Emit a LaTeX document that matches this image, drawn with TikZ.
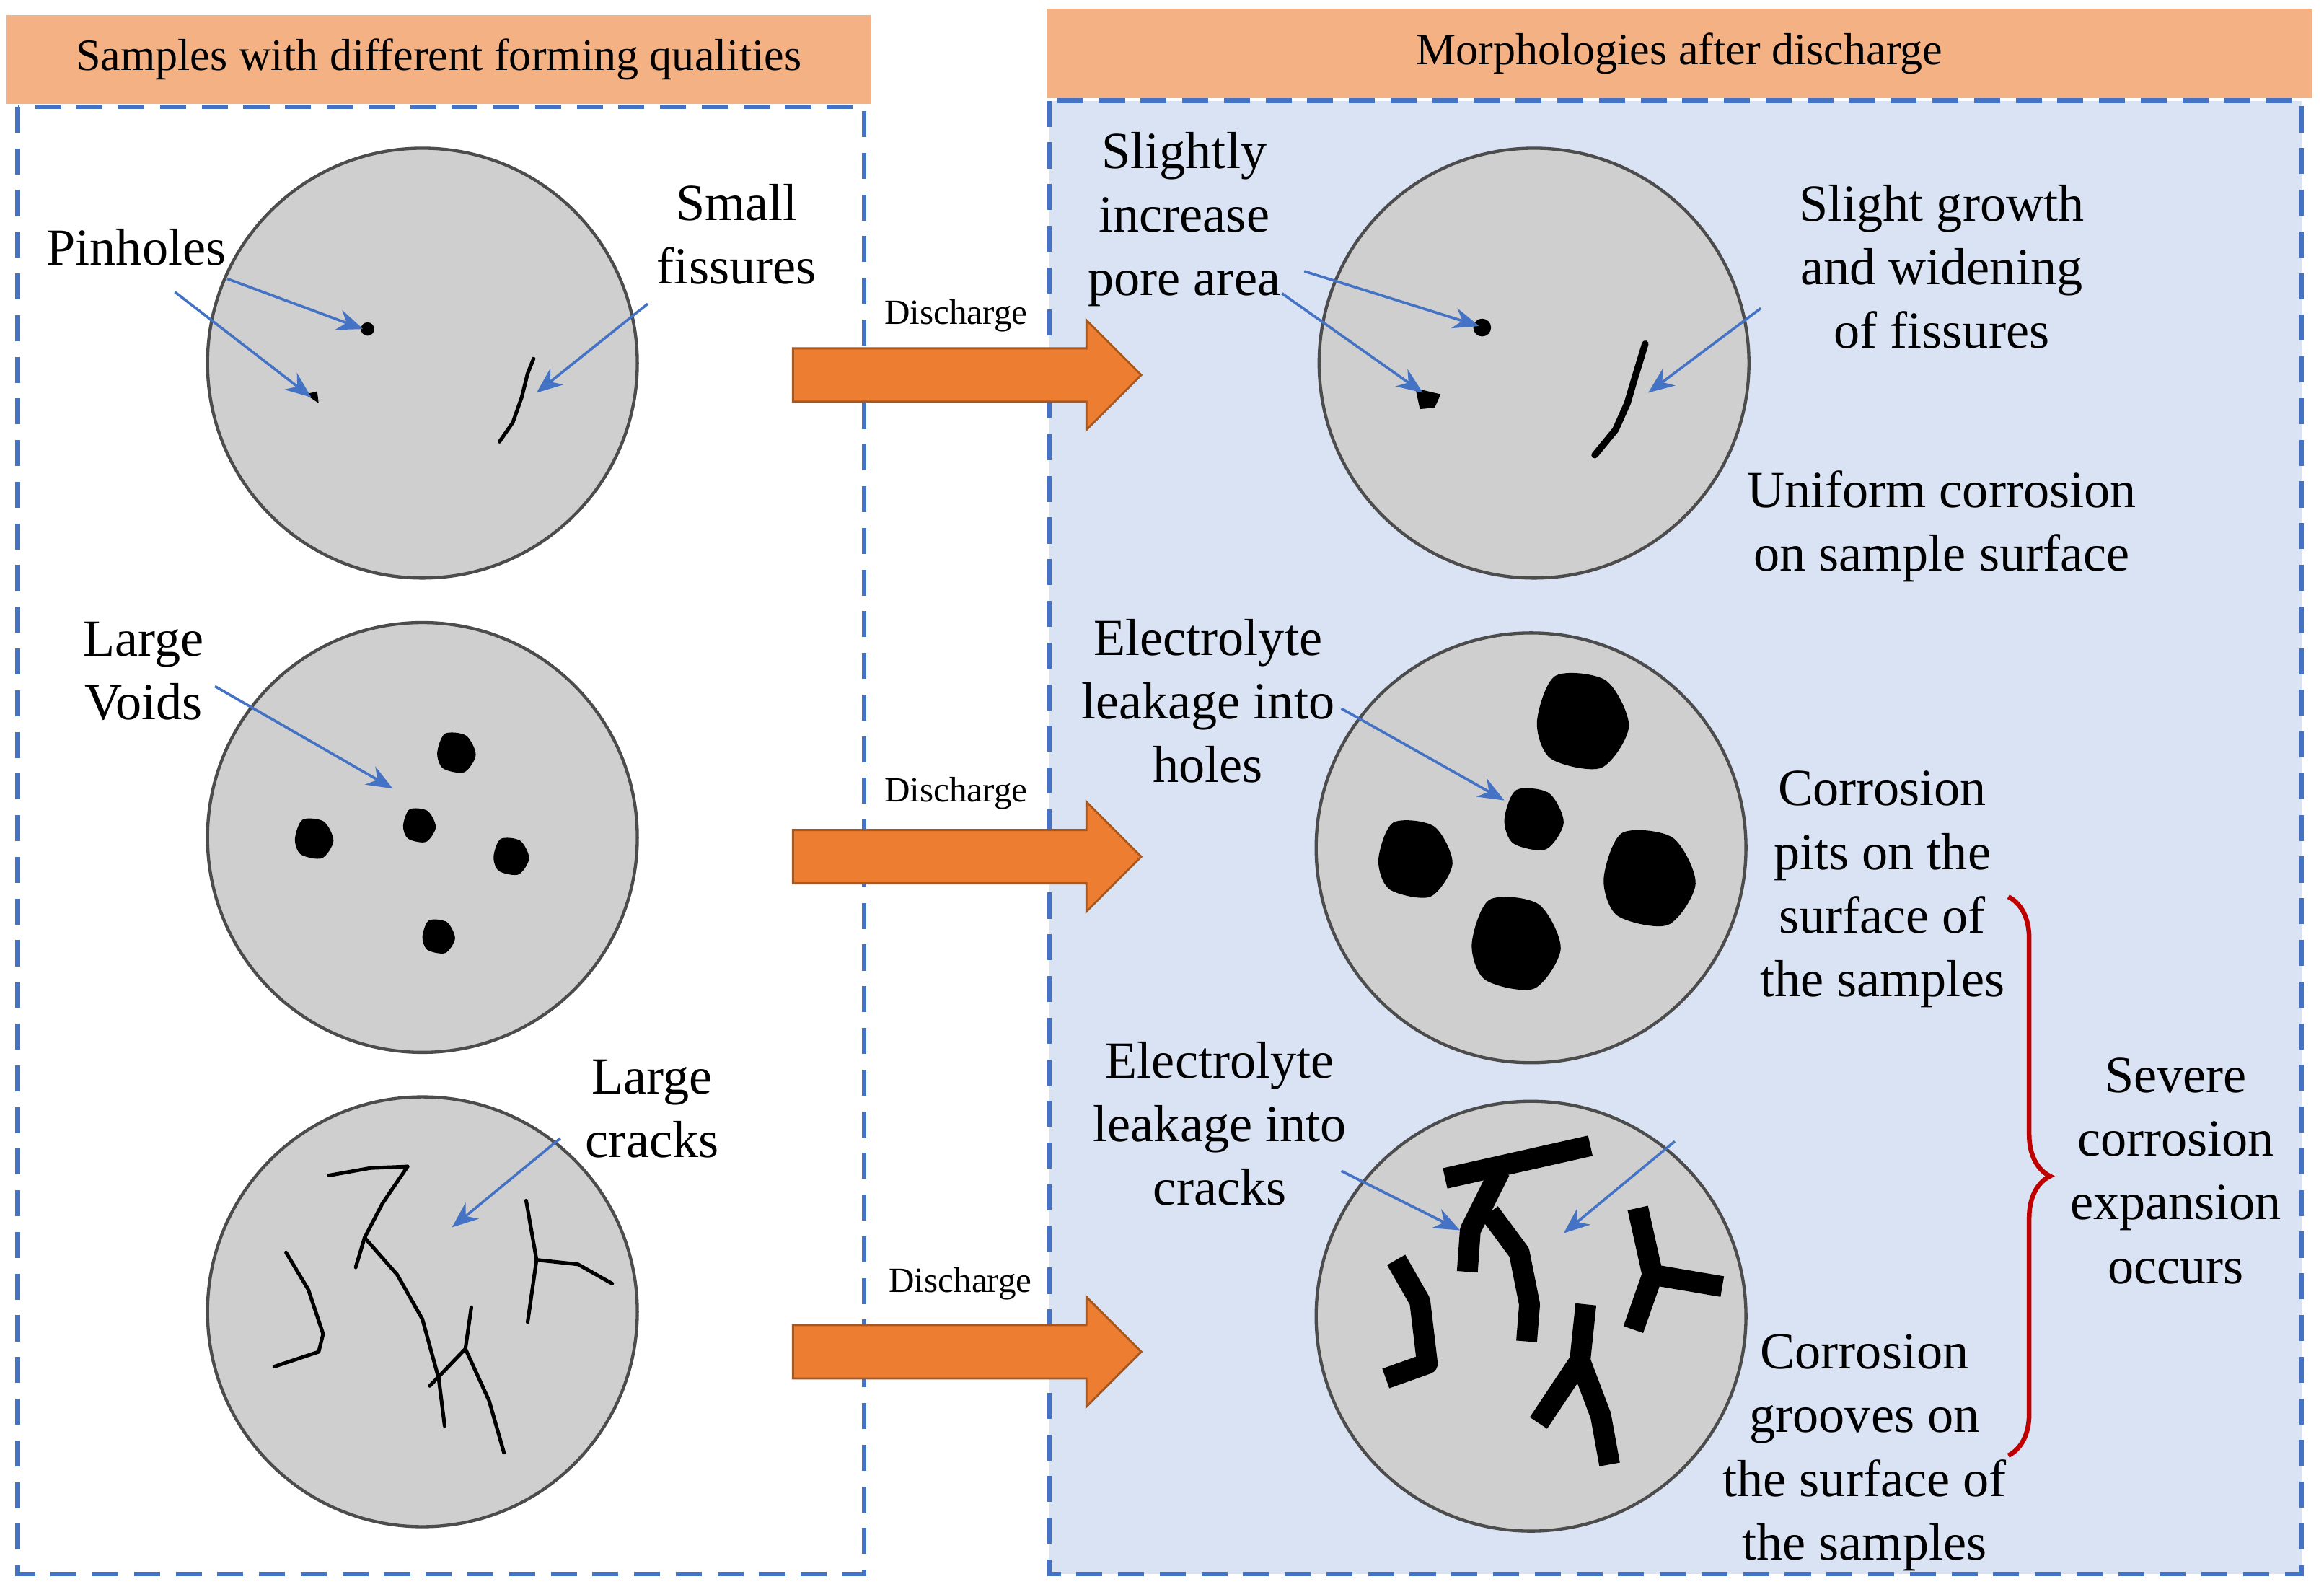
\documentclass[tikz,border=0pt]{standalone}
\usepackage{fontspec}
\setmainfont{Liberation Serif}
\usetikzlibrary{arrows.meta,decorations.pathreplacing}
\definecolor{hdr}{HTML}{F4B183}
\definecolor{dash}{HTML}{4472C4}
\definecolor{pale}{HTML}{DAE3F3}
\definecolor{org}{HTML}{ED7D31}
\definecolor{cgray}{HTML}{CFCFCF}
\begin{document}
\begin{tikzpicture}[x=0.1mm,y=-0.1mm,
 lbl/.style={align=center,font=\fontsize{10}{12.2}\selectfont,inner sep=0pt},
 hd/.style={font=\fontsize{8.6}{9}\selectfont},
 dis/.style={font=\fontsize{6.8}{8}\selectfont},
 sample/.style={circle,draw=black!70,line width=0.6pt,fill=cgray,minimum size=29mm,inner sep=0pt},
 ptr/.style={draw=dash,line width=0.5pt,-{Stealth[length=5pt,width=4pt]}},
 box/.style={draw=dash,dashed,dash pattern=on 5pt off 3pt,line width=0.9pt},
 big/.style={fill=org,draw=org!70!black,line width=0.4pt},
 crk/.style={line width=0.7pt,line cap=round,line join=round},
 thk/.style={line width=4pt,line join=round}]
\useasboundingbox (0,0) rectangle (1568,1074);
% boxes
\fill[pale] (708,68) rectangle (1553,1062);
\draw[box] (708,68) rectangle (1553,1062);
\draw[box] (12,72) rectangle (583,1062);
\node[fill=hdr,minimum width=58.3mm,minimum height=6mm,hd] (h1) at (296,40) {Samples with different forming qualities};
\node[fill=hdr,minimum width=85.4mm,minimum height=6mm,hd] (h2) at (1133,36) {Morphologies after discharge};
% circles
\node[sample] (c1) at (285,245) {};
\node[sample] (c2) at (285,565) {};
\node[sample] (c3) at (285,885) {};
\node[sample] (d1) at (1035,245) {};
\node[sample] (d2) at (1033,572) {};
\node[sample] (d3) at (1033,888) {};
% big arrows
\foreach \y/\n in {253/a1,578/a2,912/a3}{
 \draw[big] (535,\y-18) -- (733,\y-18) -- (733,\y-37) -- (770,\y) -- (733,\y+37) -- (733,\y+18) -- (535,\y+18) -- cycle;}
\node[dis] (t1) at (645,213) {Discharge};
\node[dis] (t2) at (645,535) {Discharge};
\node[dis] (t3) at (648,866) {Discharge};
% left row1 features
\fill (248,222) circle (4.5);
\fill (206,266) -- (214,264) -- (215,272) -- cycle;
\draw[crk] (337,298) -- (346,285) -- (352,268) -- (356,252) -- (360,242);
% right row1 features
\fill (1000,221) circle (6);
\fill (955,262) -- (972,266) -- (968,275) -- (958,276) -- cycle;
\draw[line width=1.3pt,line cap=round,line join=round] (1076,307) -- (1090,290) -- (1098,272) -- (1103,255) -- (1110,232);
% left voids
\foreach \x/\y/\r in {308/508/13,212/566/13,283/557/11,345/578/12,296/632/11}
 \fill plot[smooth cycle] coordinates {(\x-\r,\y) (\x-0.6*\r,\y-\r) (\x+0.5*\r,\y-0.9*\r) (\x+\r,\y+0.1*\r) (\x+0.4*\r,\y+\r) (\x-0.7*\r,\y+0.8*\r)};
% right voids
\foreach \x/\y/\r in {1068/487/31,1035/553/20,955/580/25,1113/593/31,1023/637/30}
 \fill plot[smooth cycle] coordinates {(\x-\r,\y) (\x-0.6*\r,\y-\r) (\x+0.5*\r,\y-0.9*\r) (\x+\r,\y+0.1*\r) (\x+0.4*\r,\y+\r) (\x-0.7*\r,\y+0.8*\r)};
% left cracks
\draw[crk] (222,793) -- (250,788) -- (275,787);
\draw[crk] (275,787) -- (258,812) -- (246,835) -- (240,855);
\draw[crk] (246,835) -- (268,860) -- (285,890) -- (296,930) -- (300,962);
\draw[crk] (193,845) -- (208,870) -- (218,900) -- (215,912) -- (185,922);
\draw[crk] (355,810) -- (362,850) -- (356,892);
\draw[crk] (362,850) -- (390,853) -- (413,866);
\draw[crk] (318,882) -- (314,910) -- (290,935);
\draw[crk] (314,910) -- (330,945) -- (340,980);
% right cracks
\draw[thk] (975,795) -- (1073,773);
\draw[thk] (1012,790) -- (992,830) -- (990,858);
\draw[thk] (1005,818) -- (1025,845) -- (1032,880) -- (1030,905);
\draw[thk] (942,850) -- (958,878) -- (963,920) -- (935,930);
\draw[thk] (1105,815) -- (1115,860) -- (1102,897);
\draw[thk] (1115,860) -- (1162,868);
\draw[thk] (1070,880) -- (1066,918) -- (1038,960);
\draw[thk] (1066,918) -- (1080,955) -- (1086,988);
% labels left
\node[lbl] (l1) at (92,167) {Pinholes};
\node[lbl] (l2) at (497,158) {Small\\fissures};
\node[lbl] (l3) at (97,453) {Large\\Voids};
\node[lbl] (l4) at (440,748) {Large\\cracks};
\coordinate (p1) at (245,222); \coordinate (p2) at (210,268);
\coordinate (p3) at (362,265); \coordinate (p4) at (265,532); \coordinate (p5) at (305,828);
\draw[ptr] (l1.south east) ++(0,8) -- (p1);
\draw[ptr] (118,197) -- (p2);
\draw[ptr] (437,205) -- (p3);
\draw[ptr] (145,463) -- (p4);
\draw[ptr] (378,768) -- (p5);
% labels right
\node[lbl] (r1) at (799,148) {Slightly\\increase\\pore area};
\node[lbl] (r2) at (1310,180) {Slight growth\\and widening\\of fissures};
\node[lbl] (r3) at (1310,355) {Uniform corrosion\\on sample surface};
\node[lbl] (r4) at (815,473) {Electrolyte\\leakage into\\holes};
\node[lbl] (r5) at (1270,600) {Corrosion\\pits on the\\surface of\\the samples};
\node[lbl] (r6) at (823,758) {Electrolyte\\leakage into\\cracks};
\node[lbl] (r7) at (1258,980) {Corrosion\\grooves on\\the surface of\\the samples};
\node[lbl] (r8) at (1468,790) {Severe\\corrosion\\expansion\\occurs};
\coordinate (q1) at (998,220); \coordinate (q2) at (960,265); \coordinate (q3) at (1112,265);
\coordinate (q4) at (1015,540); \coordinate (q5) at (985,830); \coordinate (q6) at (1055,832);
\draw[ptr] (880,183) -- (q1);
\draw[ptr] (865,198) -- (q2);
\draw[ptr] (1188,208) -- (q3);
\draw[ptr] (905,478) -- (q4);
\draw[ptr] (905,790) -- (q5);
\draw[ptr] (1130,770) -- (q6);
% brace
\draw[red!75!black,line width=0.9pt,decorate,decoration={brace,amplitude=8pt}] (1355,605) -- (1355,982);
\end{tikzpicture}
\end{document}
